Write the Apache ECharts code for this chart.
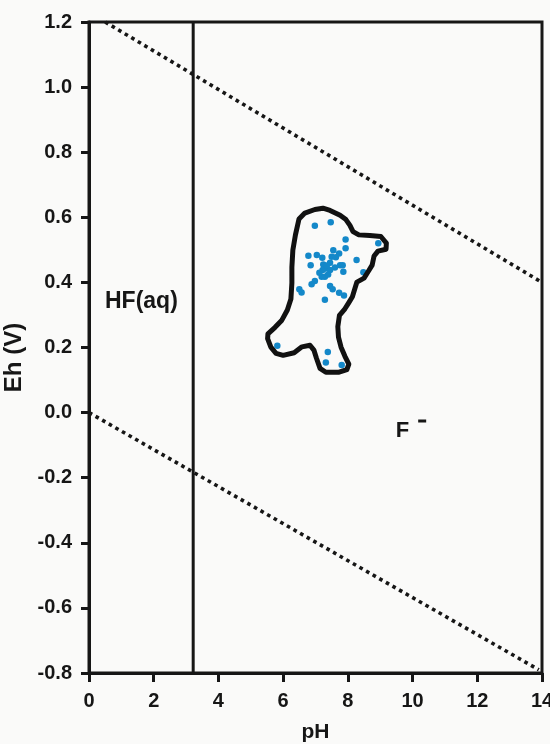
<!DOCTYPE html>
<html>
<head>
<meta charset="utf-8">
<script src="https://cdn.jsdelivr.net/npm/echarts@6/dist/echarts.min.js"></script>
<style>
  html, body { margin: 0; padding: 0; background: #fafaf9; }
  #chart { width: 550px; height: 744px; }
</style>
</head>
<body>
<div id="chart"></div>
<script>
// Eh–pH stability field of fluoride, with groundwater samples

// Axis ticks
const xTicks = [0, 2, 4, 6, 8, 10, 12, 14];
const yTicks = [-0.8, -0.6, -0.4, -0.2, 0.0, 0.2, 0.4, 0.6, 0.8, 1.0, 1.2];

// Sample measurements (pH, Eh in volts)
const samplePH = [6.98, 7.47, 7.93, 8.94, 7.93, 7.55, 7.73, 6.78, 7.04, 7.21,
                  7.50, 8.27, 6.85, 7.24, 7.45, 7.76, 7.84, 7.31, 7.45, 7.86,
                  8.48, 7.22, 7.19, 7.29, 6.98, 6.88, 7.45, 7.53, 6.50, 6.57,
                  7.73, 7.88, 7.29, 5.82, 7.38, 7.32, 7.81, 7.35, 7.60, 7.39,
                  7.63, 7.12];
const sampleEh = [0.574, 0.585, 0.532, 0.520, 0.505, 0.499, 0.489, 0.482, 0.484, 0.476,
                  0.479, 0.469, 0.453, 0.455, 0.460, 0.453, 0.453, 0.443, 0.438, 0.433,
                  0.431, 0.438, 0.417, 0.417, 0.404, 0.394, 0.389, 0.379, 0.379, 0.369,
                  0.368, 0.360, 0.347, 0.205, 0.186, 0.154, 0.146, 0.452, 0.446, 0.424,
                  0.477, 0.430];

// Envelope drawn around the samples
const outlinePH = [6.49, 6.67, 6.98, 7.23, 7.45, 7.76, 7.94, 8.06, 8.16, 8.34,
                   8.68, 9.02, 9.19, 9.18, 8.93, 8.81, 8.75, 8.62, 8.50, 8.28,
                   8.22, 8.14, 8.03, 7.91, 7.74, 7.69, 7.71, 7.79, 7.91, 8.03,
                   7.97, 7.73, 7.32, 7.14, 7.03, 6.95, 6.83, 6.58, 6.34, 6.00,
                   5.78, 5.62, 5.52, 5.53, 5.75, 5.96, 6.13, 6.24, 6.27, 6.27,
                   6.30, 6.38, 6.49];
const outlineEh = [0.595, 0.613, 0.624, 0.628, 0.621, 0.606, 0.593, 0.576, 0.556, 0.546,
                   0.544, 0.541, 0.521, 0.502, 0.496, 0.481, 0.453, 0.432, 0.413, 0.401,
                   0.382, 0.356, 0.338, 0.319, 0.299, 0.264, 0.232, 0.201, 0.173, 0.149,
                   0.132, 0.124, 0.124, 0.136, 0.167, 0.192, 0.207, 0.202, 0.184, 0.176,
                   0.182, 0.201, 0.227, 0.242, 0.262, 0.284, 0.315, 0.349, 0.398, 0.447,
                   0.499, 0.546, 0.595];

// Water stability limits (upper O2/H2O, lower H2O/H2)
const upperLimitPH = [0.5, 14];
const upperLimitEh = [1.2, 0.40];
const lowerLimitPH = [0, 13.9];
const lowerLimitEh = [0.0, -0.79];

// HF(aq) / F- boundary
const boundaryPH = [3.22, 3.22];
const boundaryEh = [-0.8, 1.2];

// Field labels
const fieldNames = ['HF(aq)', 'F'];
const fieldPH = [1.62, 9.95];
const fieldEh = [0.34, -0.055];

const zip = (a, b) => a.map((v, i) => [v, b[i]]);

const FONT = '"Liberation Sans", Arial, sans-serif';
const INK = '#161616';

const chart = echarts.init(document.getElementById('chart'), null, { renderer: 'canvas' });

chart.setOption({
  backgroundColor: '#fafaf9',
  animation: false,
  grid: {
    left: 89, right: 8, top: 22, bottom: 71,
    outerBoundsMode: 'none', containLabel: false,
    show: true, borderColor: INK, borderWidth: 3, backgroundColor: 'transparent'
  },
  xAxis: {
    type: 'value',
    min: xTicks[0], max: xTicks[xTicks.length - 1], interval: 2,
    name: 'pH', nameLocation: 'middle', nameGap: 49,
    nameTextStyle: { fontFamily: FONT, fontWeight: 'bold', fontSize: 21, color: INK },
    axisLine: { show: true, onZero: false, lineStyle: { color: INK, width: 3 } },
    axisTick: { show: true, length: 9, lineStyle: { color: INK, width: 3 } },
    axisLabel: { margin: 18, fontFamily: FONT, fontWeight: 'bold', fontSize: 20, color: INK },
    splitLine: { show: false }
  },
  yAxis: {
    type: 'value',
    min: yTicks[0], max: yTicks[yTicks.length - 1], interval: 0.2,
    name: 'Eh (V)', nameLocation: 'middle', nameGap: 60,
    nameTextStyle: {
      fontFamily: FONT, fontWeight: 'bold', fontSize: 24, color: INK,
      padding: [0, 20, 0, 0]
    },
    axisLine: { show: true, onZero: false, lineStyle: { color: INK, width: 3 } },
    axisTick: { show: true, length: 8, lineStyle: { color: INK, width: 3 } },
    axisLabel: {
      margin: 17, fontFamily: FONT, fontWeight: 'bold', fontSize: 20, color: INK,
      formatter: v => v.toFixed(1)
    },
    splitLine: { show: false }
  },
  series: [
    {
      name: 'upper limit', type: 'line', data: zip(upperLimitPH, upperLimitEh),
      symbol: 'none', silent: true,
      lineStyle: { color: INK, width: 3.6, type: [3.6, 4], cap: 'butt' }
    },
    {
      name: 'lower limit', type: 'line', data: zip(lowerLimitPH, lowerLimitEh),
      symbol: 'none', silent: true,
      lineStyle: { color: INK, width: 3.6, type: [3.6, 4], cap: 'butt' }
    },
    {
      name: 'HF/F boundary', type: 'line', data: zip(boundaryPH, boundaryEh),
      symbol: 'none', silent: true,
      lineStyle: { color: INK, width: 3 }
    },
    {
      name: 'envelope', type: 'line', data: zip(outlinePH, outlineEh),
      symbol: 'none', smooth: false, silent: true,
      lineStyle: { color: '#111', width: 5, join: 'round', cap: 'round' }
    },
    {
      name: 'samples', type: 'scatter', data: zip(samplePH, sampleEh),
      symbol: 'circle', symbolSize: 6.5,
      itemStyle: { color: '#1488c9', opacity: 1 }
    },
    {
      name: 'fields', type: 'scatter', symbolSize: 0, silent: true,
      itemStyle: { opacity: 1 },
      data: zip(fieldPH, fieldEh).map((p, i) => ({ value: p, name: fieldNames[i] })),
      label: {
        show: true, position: 'inside', color: INK, textBorderWidth: 0,
        // "F" with a superscript charge bar
        formatter: p => p.name === 'F' ? '{f|F}{g| }{s| }' : '{b|' + p.name + '}',
        rich: {
          b: { fontFamily: FONT, fontWeight: 'bold', fontSize: 23, color: INK },
          f: { fontFamily: FONT, fontWeight: 'bold', fontSize: 22, color: INK },
          g: { fontSize: 4, width: 9 },
          s: { fontSize: 2, width: 8, height: 3, backgroundColor: INK, verticalAlign: 'top' }
        }
      }
    }
  ]
});
</script>
</body>
</html>
